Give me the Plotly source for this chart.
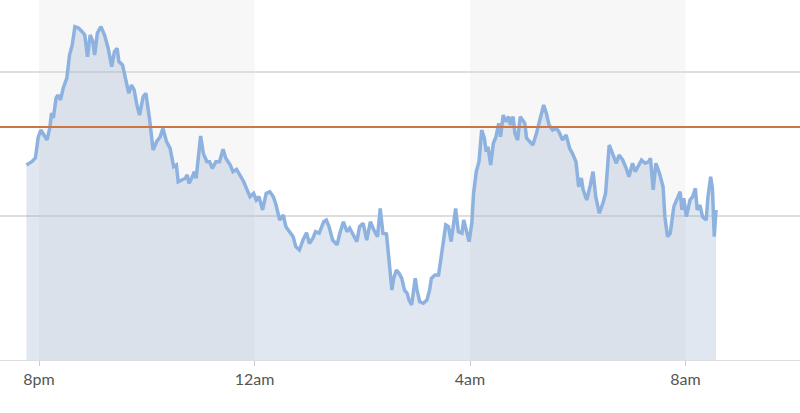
import pandas as pd
import plotly.graph_objects as go

# overnight session, times are local (evening of day 1 -> morning of day 2)
times = [
    "19:46", "19:52", "19:56", "19:59", "20:02", "20:06", "20:09", "20:12", "20:14", "20:16",
    "20:19", "20:21", "20:24", "20:27", "20:31", "20:34", "20:37", "20:40", "20:44", "20:48",
    "20:51", "20:54", "20:57", "21:00", "21:02", "21:05", "21:09", "21:13", "21:17", "21:21",
    "21:24", "21:27", "21:29", "21:33", "21:37", "21:40", "21:43", "21:46", "21:49", "21:52",
    "21:56", "21:59", "22:03", "22:07", "22:11", "22:15", "22:18", "22:22", "22:26", "22:30",
    "22:33", "22:35", "22:39", "22:43", "22:45", "22:47", "22:50", "22:53", "22:55", "22:57",
    "23:00", "23:03", "23:07", "23:10", "23:13", "23:17", "23:21", "23:25", "23:28", "23:33",
    "23:36", "23:40", "23:44", "23:48", "23:51", "23:55", "23:59", "00:02", "00:05", "00:09",
    "00:13", "00:17", "00:21", "00:24", "00:28", "00:32", "00:35", "00:39", "00:43", "00:46",
    "00:50", "00:54", "00:58", "01:01", "01:05", "01:08", "01:12", "01:17", "01:20", "01:23",
    "01:27", "01:32", "01:35", "01:39", "01:43", "01:46", "01:50", "01:54", "01:57", "02:01",
    "02:05", "02:09", "02:13", "02:17", "02:20", "02:23", "02:27", "02:30", "02:33", "02:35",
    "02:38", "02:41", "02:44", "02:47", "02:50", "02:52", "02:55", "02:59", "03:01", "03:04",
    "03:08", "03:12", "03:15", "03:17", "03:21", "03:25", "03:28", "03:30", "03:33", "03:36",
    "03:39", "03:41", "03:44", "03:47", "03:51", "03:53", "03:56", "03:59", "04:02", "04:04",
    "04:07", "04:10", "04:13", "04:16", "04:18", "04:20", "04:23", "04:26", "04:29", "04:32",
    "04:34", "04:37", "04:40", "04:43", "04:45", "04:48", "04:50", "04:53", "04:56", "04:59",
    "05:01", "05:03", "05:07", "05:10", "05:14", "05:17", "05:20", "05:22", "05:25", "05:28",
    "05:32", "05:36", "05:39", "05:43", "05:47", "05:51", "05:54", "05:58", "06:01", "06:04",
    "06:06", "06:10", "06:14", "06:17", "06:20", "06:24", "06:28", "06:31", "06:35", "06:39",
    "06:43", "06:46", "06:50", "06:54", "06:57", "07:01", "07:04", "07:07", "07:11", "07:15",
    "07:19", "07:21", "07:24", "07:27", "07:31", "07:35", "07:37", "07:40", "07:43", "07:47",
    "07:51", "07:54", "07:56", "07:58", "08:01", "08:05", "08:08", "08:11", "08:13", "08:16",
    "08:19", "08:23", "08:25", "08:28", "08:30", "08:32", "08:34",
]

prices = [
    135.4, 137.7, 140.3, 154.2, 159.7, 156.3, 152.8, 161.1, 171.5, 168.1,
    181.9, 184.0, 180.6, 188.9, 195.8, 211.8, 218.8, 231.5, 230.6, 228.0,
    225.7, 210.6, 225.7, 221.0, 211.8, 227.1, 231.5, 225.7, 216.5, 203.7,
    214.1, 216.5, 207.2, 204.9, 193.3, 185.2, 191.0, 187.5, 177.1, 170.1,
    182.8, 185.2, 168.1, 145.8, 151.6, 155.1, 160.9, 151.6, 147.0, 134.2,
    135.4, 123.8, 125.0, 126.2, 128.5, 122.7, 126.2, 130.8, 126.2, 140.1,
    155.6, 143.5, 137.7, 137.7, 133.1, 137.7, 137.7, 146.3, 140.1, 135.4,
    130.8, 132.4, 128.5, 123.8, 119.2, 113.4, 115.8, 111.1, 113.4, 104.2,
    115.6, 116.9, 113.4, 107.6, 97.2, 100.7, 92.6, 89.1, 85.6, 78.7,
    76.4, 83.3, 88.4, 81.0, 84.5, 89.1, 88.0, 96.0, 97.2, 92.6,
    83.3, 79.9, 88.0, 96.0, 89.1, 91.5, 86.8, 82.2, 92.6, 94.9,
    83.3, 96.0, 90.3, 85.6, 105.3, 88.0, 87.5, 64.8, 48.6, 56.7,
    62.5, 60.2, 56.7, 48.6, 46.3, 41.7, 38.2, 56.7, 48.6, 40.5,
    39.4, 41.7, 48.6, 56.7, 59.0, 59.0, 71.7, 83.3, 93.8, 92.6,
    82.2, 91.5, 105.3, 89.1, 88.0, 97.2, 88.2, 82.2, 94.9, 115.8,
    130.8, 137.7, 159.7, 153.9, 144.7, 148.1, 135.4, 150.5, 155.1, 164.4,
    155.1, 170.1, 165.5, 169.0, 163.2, 169.0, 157.4, 152.8, 169.0, 166.7,
    164.4, 154.0, 151.6, 149.3, 157.4, 164.4, 171.3, 177.1, 171.3, 163.2,
    159.7, 160.9, 158.5, 152.8, 156.3, 147.0, 143.5, 137.7, 120.3, 126.4,
    118.1, 111.1, 121.5, 130.8, 113.4, 101.9, 108.8, 115.8, 149.3, 143.5,
    136.6, 142.4, 138.9, 133.1, 127.3, 136.6, 130.8, 134.2, 138.9, 136.6,
    137.7, 140.1, 118.1, 136.6, 129.7, 120.3, 99.5, 85.6, 88.0, 106.5,
    113.4, 116.9, 104.2, 112.3, 99.5, 111.1, 113.4, 119.2, 104.2, 107.6,
    99.5, 97.2, 113.4, 127.3, 119.2, 85.6, 104.2,
]

reference_price = 161.8

tick_times = ["2024-03-14 20:00", "2024-03-15 00:00", "2024-03-15 04:00", "2024-03-15 08:00"]
tick_labels = ["8pm", "12am", "4am", "8am"]

# alternating shaded 4-hour bands
bands = [("2024-03-14 20:00", "2024-03-15 00:00"), ("2024-03-15 04:00", "2024-03-15 08:00")]

x_range = ["2024-03-14 19:16:34", "2024-03-15 10:07:30"]


def to_datetime(hhmm):
    day = "2024-03-14" if int(hhmm[:2]) >= 12 else "2024-03-15"
    return pd.Timestamp(f"{day} {hhmm}")


x = [to_datetime(t) for t in times]

fig = go.Figure()

for start, end in bands:
    fig.add_vrect(x0=start, x1=end, fillcolor="#f7f7f7", line_width=0, layer="below")

fig.add_trace(go.Scatter(
    x=x, y=prices, mode="lines",
    line=dict(color="#8db2e0", width=3.5),
    fill="tozeroy", fillcolor="rgba(140,165,200,0.27)",
    showlegend=False, hoverinfo="x+y",
))

fig.add_hline(y=reference_price, line_color="#cd7642", line_width=2)

fig.update_layout(
    width=800, height=413,
    margin=dict(l=0, r=0, t=0, b=53),
    plot_bgcolor="white", paper_bgcolor="white",
    font=dict(family="Lato", size=16, color="#555555"),
)
fig.update_xaxes(
    range=x_range,
    tickvals=tick_times, ticktext=tick_labels,
    ticks="outside", ticklen=5, tickcolor="#cccccc", tickwidth=1,
    showgrid=False, showline=True, linecolor="#dddddd", linewidth=1,
    zeroline=False,
)
fig.update_yaxes(
    range=[0, 250], dtick=100, showticklabels=False,
    showgrid=True, gridcolor="#dedede", gridwidth=1.5,
    zeroline=False,
)

# drop the browser's default body margin so the chart sits flush in the window
fig.write_html("out.html", config={"displayModeBar": False},
               post_script="document.body.style.margin='0';")
